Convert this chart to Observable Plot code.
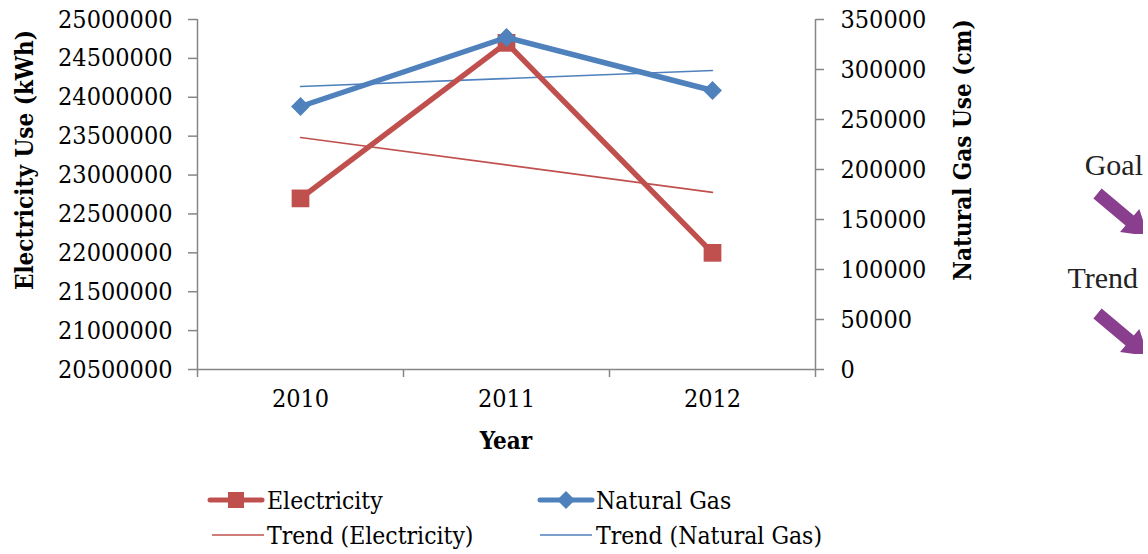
<!DOCTYPE html>
<html>
<head>
<meta charset="utf-8">
<script src="https://cdn.jsdelivr.net/npm/d3@7"></script>
<script src="https://cdn.jsdelivr.net/npm/@observablehq/plot@0.6"></script>
<style>
  html, body { margin: 0; padding: 0; background: #fff; }
  #chart svg { display: block; }
</style>
</head>
<body>
<div id="chart"></div>
<script>
// ---- Data ----
const years = [2010, 2011, 2012];
const electricity = [22700000, 24700000, 22000000];      // kWh (left axis)
const naturalGas = [263000, 332000, 279000];              // cm (right axis)
const trendYears = [2010, 2012];
const trendElectricity = [23483000, 22777000];
const trendNaturalGas = [283000, 299000];
const leftTicks = [20500000, 21000000, 21500000, 22000000, 22500000, 23000000, 23500000, 24000000, 24500000, 25000000];
const rightTicks = [0, 50000, 100000, 150000, 200000, 250000, 300000, 350000];
const xBoundaries = [2009.5, 2010.5, 2011.5, 2012.5];
const legendLabels = ["Electricity", "Natural Gas", "Trend (Electricity)", "Trend (Natural Gas)"];
const noteLabels = ["Goal", "Trend"];

// ---- Styles ----
const RED = "#C0504D";
const BLUE = "#4F81BD";
const GRAY = "#868686";
const PURPLE = "#8A3F8E";
const FONT = '"DejaVu Serif Condensed", "DejaVu Serif", serif';

// secondary axis mapping (gas -> left-axis units)
const gasToLeft = d3.scaleLinear([0, 350000], [20500000, 25000000]);

const elecData = years.map((year, i) => ({year, value: electricity[i]}));
const gasData = years.map((year, i) => ({year, value: gasToLeft(naturalGas[i])}));
const trendElecData = trendYears.map((year, i) => ({year, value: trendElectricity[i]}));
const trendGasData = trendYears.map((year, i) => ({year, value: gasToLeft(trendNaturalGas[i])}));

const chart = Plot.plot({
  width: 1148,
  height: 554,
  marginLeft: 197,
  marginRight: 333,
  marginTop: 19,
  marginBottom: 185,
  x: {type: "linear", domain: [2009.5, 2012.5]},
  y: {domain: [20500000, 25000000]},
  style: {fontFamily: FONT, fontSize: "25px", color: "#000", background: "#fff", overflow: "visible"},
  marks: [
    Plot.ruleX([2009.5], {stroke: GRAY, strokeWidth: 1.5}),
    Plot.ruleX([2012.5], {stroke: GRAY, strokeWidth: 1.5}),
    Plot.ruleY([20500000], {stroke: GRAY, strokeWidth: 1.5}),
    Plot.axisY(leftTicks, {anchor: "left", tickSize: 9, tickPadding: 16, tickFormat: d => String(d), label: null, stroke: GRAY, strokeWidth: 1.5, fill: "#000"}),
    Plot.axisY(rightTicks.map(d => gasToLeft(d)), {anchor: "right", tickSize: 8, tickPadding: 17, tickFormat: d => String(Math.round(gasToLeft.invert(d))), label: null, stroke: GRAY, strokeWidth: 1.5, fill: "#000"}),
    Plot.axisX(xBoundaries, {anchor: "bottom", tickSize: 8, tickFormat: () => "", label: null, stroke: GRAY, strokeWidth: 1.5}),
    Plot.axisX(years, {anchor: "bottom", tickSize: 0, tickPadding: 20, tickFormat: d => String(d), label: null, fill: "#000"}),
    Plot.line(trendElecData, {x: "year", y: "value", stroke: RED, strokeWidth: 1.6}),
    Plot.line(trendGasData, {x: "year", y: "value", stroke: BLUE, strokeWidth: 1.6}),
    Plot.line(elecData, {x: "year", y: "value", stroke: RED, strokeWidth: 5.5}),
    Plot.dot(elecData, {x: "year", y: "value", symbol: "square", r: 10, fill: RED, stroke: "none"}),
    Plot.line(gasData, {x: "year", y: "value", stroke: BLUE, strokeWidth: 5.5}),
    Plot.dot(gasData, {x: "year", y: "value", symbol: "diamond2", r: 8.5, fill: BLUE, stroke: "none"})
  ]
});

document.getElementById("chart").appendChild(chart);
const svg = d3.select(chart);

// ---- axis titles ----
function title(x, y, rot, txt) {
  svg.append("text")
    .attr("transform", `translate(${x},${y}) rotate(${rot})`)
    .attr("text-anchor", "middle")
    .attr("dominant-baseline", "central")
    .attr("font-family", FONT)
    .attr("font-weight", "bold")
    .attr("font-size", 24)
    .attr("fill", "#000")
    .text(txt);
}
title(24, 160, -90, "Electricity Use (kWh)");
title(962, 150, -90, "Natural Gas Use (cm)");
title(506, 440, 0, "Year");

// ---- legend ----
const lg = svg.append("g").attr("font-family", FONT).attr("font-size", 24.5).attr("fill", "#000").attr("text-anchor", "start");
const legendItems = [
  {label: legendLabels[0], x: 210, y: 500, color: RED, width: 5, marker: "square"},
  {label: legendLabels[1], x: 540, y: 500, color: BLUE, width: 5, marker: "diamond"},
  {label: legendLabels[2], x: 212, y: 535, color: RED, width: 1.6, marker: null},
  {label: legendLabels[3], x: 540, y: 535, color: BLUE, width: 1.6, marker: null}
];
for (const it of legendItems) {
  lg.append("line").attr("x1", it.x).attr("x2", it.x + 52).attr("y1", it.y).attr("y2", it.y)
    .attr("stroke", it.color).attr("stroke-width", it.width).attr("stroke-linecap", it.marker ? "round" : "butt");
  const cx = it.x + 26;
  if (it.marker === "square") {
    lg.append("rect").attr("x", cx - 8).attr("y", it.y - 8).attr("width", 16).attr("height", 16).attr("fill", it.color);
  } else if (it.marker === "diamond") {
    lg.append("path").attr("d", `M${cx},${it.y - 9}L${cx + 9},${it.y}L${cx},${it.y + 9}L${cx - 9},${it.y}Z`).attr("fill", it.color);
  }
  lg.append("text").attr("x", 267 + (it.x >= 540 ? 329 : 0)).attr("y", it.y)
    .attr("text-anchor", "start").attr("dominant-baseline", "central").text(it.label);
}

// ---- side notes with arrows ----
const notes = [
  {label: noteLabels[0], tx: 1143, ty: 175, ax: 1097.5, ay: 193.5, clipY: 234},
  {label: noteLabels[1], tx: 1138, ty: 288, ax: 1097.5, ay: 313.5, clipY: 354}
];
const defs = svg.append("defs");
notes.forEach((n, i) => {
  svg.append("text").attr("x", n.tx).attr("y", n.ty).attr("text-anchor", "end")
    .attr("font-family", '"Liberation Serif", "Times New Roman", serif').attr("font-size", 30).attr("fill", "#222").text(n.label);
  const id = "arrowclip" + i;
  defs.append("clipPath").attr("id", id).append("rect")
    .attr("x", n.ax - 20).attr("y", n.ay - 20).attr("width", 1143 - (n.ax - 20)).attr("height", n.clipY - (n.ay - 20));
  const a = 40 * Math.PI / 180;
  const u = [Math.cos(a), Math.sin(a)], p = [-Math.sin(a), Math.cos(a)];
  const hw = 6.4, Hw = 15, Ls = 42, Lh = 24;
  const pt = (l, w) => [n.ax + u[0] * l + p[0] * w, n.ay + u[1] * l + p[1] * w];
  const pts = [pt(0, hw), pt(Ls, hw), pt(Ls, Hw), pt(Ls + Lh, 0), pt(Ls, -Hw), pt(Ls, -hw), pt(0, -hw)];
  svg.append("path").attr("d", "M" + pts.map(q => q.join(",")).join("L") + "Z")
    .attr("fill", PURPLE).attr("clip-path", `url(#${id})`);
});
</script>
</body>
</html>
